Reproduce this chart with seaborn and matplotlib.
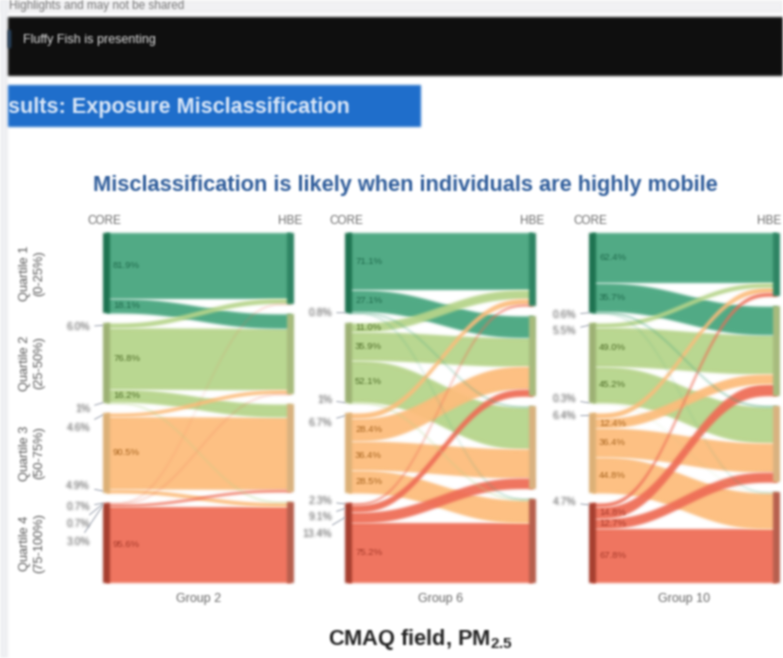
import numpy as np
import pandas as pd
import seaborn as sns
import matplotlib.pyplot as plt

sns.set_theme(style='white')
plt.rcParams['font.family'] = ['Liberation Sans', 'DejaVu Sans']
plt.rcParams['mathtext.fontset'] = 'custom'
plt.rcParams['mathtext.bf'] = 'Liberation Sans:bold'

W, H = 783, 658

quartiles = ['Quartile 1\n(0-25%)', 'Quartile 2\n(25-50%)', 'Quartile 3\n(50-75%)', 'Quartile 4\n(75-100%)']
groups = ['Group 2', 'Group 6', 'Group 10']

# rows = CORE quartile, columns = HBE quartile, % of the CORE quartile
group2 = [[81.9, 18.1, 0, 0],
          [6.0, 76.8, 16.2, 1],
          [0, 4.6, 90.5, 4.9],
          [0.7, 0.7, 3.0, 95.6]]
group6 = [[71.1, 27.1, 1.0, 0.8],
          [11, 35.9, 52.1, 1],
          [6.7, 28.4, 36.4, 28.5],
          [2.3, 9.1, 13.4, 75.2]]
group10 = [[62.4, 35.7, 1.3, 0.6],
           [5.5, 49, 45.2, 0.3],
           [6.4, 12.4, 36.4, 44.8],
           [4.7, 14.8, 12.7, 67.8]]
all_flows = [group2, group6, group10]

band_colors = sns.color_palette(['#48A67F', '#B7D58B', '#FDBD7C', '#EF6E57'])
left_bar_colors = ['#1E7350', '#9DB374', '#DDB277', '#A83F30']
right_bar_colors = ['#2F8463', '#A9BC7E', '#D9B480', '#B8604E']
text_colors = ['#1F6B4C', '#4F6E28', '#A8651F', '#A83A2A']

# flows labelled outside the bars: (from, to, label y in pixels)
outside2 = [(1, 0, 327), (1, 3, 409), (2, 1, 428), (2, 3, 486), (3, 0, 507), (3, 1, 524), (3, 2, 542)]
outside6 = [(0, 3, 313), (1, 3, 400), (2, 0, 423), (3, 0, 501), (3, 1, 517), (3, 2, 534)]
outside10 = [(0, 3, 315), (1, 0, 331), (1, 3, 399), (2, 0, 416), (3, 0, 502)]
all_outside = [outside2, outside6, outside10]

panel_x = [(103, 294), (345, 536), (589, 780)]
top, bottom = 233, 583
unit = 0.8      # pixels per 1%
gap = 12.5      # gap between quartiles, in % units
bar_px = 7


# the reference is a blurry screen grab, so soften everything a bit
def soften(img, dpi):
    pad = 4
    out = np.zeros((img.shape[0] + 2 * pad, img.shape[1] + 2 * pad, 4))
    out[pad:-pad, pad:-pad] = img
    out[..., :3] *= out[..., 3:]
    for axis in (0, 1):
        out = (6 * out + 4 * (np.roll(out, 1, axis) + np.roll(out, -1, axis))
               + np.roll(out, 2, axis) + np.roll(out, -2, axis)) / 16
    out[..., :3] /= np.maximum(out[..., 3:], 1e-4)
    return np.clip(out, 0, 1), -pad, -pad


fig = plt.figure(figsize=(W / 100, H / 100), dpi=100, facecolor='white')

# screenshot chrome, in pixel coordinates
bg = fig.add_axes([0, 0, 1, 1], zorder=0)
bg.set_xlim(0, W)
bg.set_ylim(H, 0)
bg.axis('off')
bg.fill_between([0, W], 0, 13, color='#F1F1F3', lw=0)
bg.fill_between([0, 8], 0, H, color='#EFF0F3', lw=0)
bg.fill_between([8, W], 17, 76, color='#0F0F0F', lw=0)
bg.fill_between([8, 11], 30, 48, color='#2A4A6A', lw=0)
bg.fill_between([8, 421], 85, 127, color='#1F6ECB', lw=0)
bg.text(9, 6, 'Highlights and may not be shared', fontsize=8.5, color='#777777', va='center')
bg.text(23, 40, 'Fluffy Fish is presenting', fontsize=9, color='#E0E0E0', va='center')
bg.text(8, 108, 'sults: Exposure Misclassification', fontsize=15.6, fontweight='bold', color='#DCE8F8',
        va='center')
bg.text(405, 186, 'Misclassification is likely when individuals are highly mobile', fontsize=15.7,
        fontweight='bold', color='#2F5D9B', ha='center', va='center')
bg.text(420, 639, r'CMAQ field, PM$_{\mathbf{2.5}}$', fontsize=15.7, fontweight='bold', color='#222222',
        ha='center', va='center')

for q, label in enumerate(quartiles):
    bg.text(32, top + 40 + q * 90, label, rotation=90, fontsize=9.2, color='#555555', ha='center',
            va='center', linespacing=1.2)


def smooth(t):
    return t * t * t * (t * (6 * t - 15) + 10)


for i, flows in enumerate(all_flows):
    x0, x1 = panel_x[i]
    ax = fig.add_axes([x0 / W, 1 - bottom / H, (x1 - x0) / W, (bottom - top) / H], zorder=1)
    ax.patch.set_alpha(0)
    ax.set_xlim(x0, x1)
    ax.set_ylim((bottom - top) / unit, 0)
    ax.axis('off')

    df = pd.DataFrame(flows)
    left_size = df.sum(axis=1).values
    right_size = df.sum(axis=0).values
    # right side is stretched a little so both sides share the same height
    scale = left_size.sum() / right_size.sum()

    left_start = np.r_[0, np.cumsum(left_size + gap)[:-1]]
    right_start = np.r_[0, np.cumsum(right_size * scale + gap)[:-1]]

    # stack flows on each side
    l_pos = np.zeros((4, 4))
    r_pos = np.zeros((4, 4))
    for s in range(4):
        l_pos[s] = left_start[s] + np.r_[0, np.cumsum(df.iloc[s].values)[:-1]]
    for d in range(4):
        r_pos[:, d] = right_start[d] + np.r_[0, np.cumsum(df.iloc[:, d].values * scale)[:-1]]

    # bands run in under the bars so no white seam shows after the blur
    xs = np.linspace(x0 + 3, x1 - 3, 120)
    t = smooth(np.clip((xs - x0 - bar_px) / (x1 - x0 - 2 * bar_px), 0, 1))
    order = sorted(((s, d) for s in range(4) for d in range(4)), key=lambda p: -df.iloc[p[0], p[1]])
    for s, d in order:
        v = df.iloc[s, d]
        if v == 0:
            continue
        y_top = l_pos[s, d] + (r_pos[s, d] - l_pos[s, d]) * t
        y_bot = y_top + v * (1 + (scale - 1) * t)
        ax.fill_between(xs, y_top, y_bot, color=band_colors[s], alpha=0.95, lw=0)

    for q in range(4):
        ax.fill_between([x0, x0 + bar_px], left_start[q], left_start[q] + left_size[q],
                        color=left_bar_colors[q], lw=0)
        ax.fill_between([x1 - bar_px, x1], right_start[q], right_start[q] + right_size[q] * scale,
                        color=right_bar_colors[q], lw=0)

    outside = {(s, d): y for s, d, y in all_outside[i]}
    for s in range(4):
        for d in range(4):
            v = df.iloc[s, d]
            if v == 0:
                continue
            mid = l_pos[s, d] + v / 2
            txt = f'{v:g}%' if v == 1 else f'{v:.1f}%'
            if (s, d) in outside:
                ly = (outside[(s, d)] - top) / unit
                ax.annotate(txt, xy=(x0, mid), xytext=(x0 - 13, ly), fontsize=7.5, color='#555555',
                            ha='right', va='center', annotation_clip=False,
                            arrowprops=dict(arrowstyle='-', color='#8890A0', lw=0.6, shrinkA=1, shrinkB=0))
            elif v >= 7:
                ax.text(x0 + bar_px + 3, mid, txt, fontsize=6.8, color=text_colors[s], va='center')

    bg.text(x0 + 1, 221, 'CORE', fontsize=8.5, color='#666666', ha='center', va='center')
    bg.text(min(x1 - 4, 769), 221, 'HBE', fontsize=8.5, color='#666666', ha='center', va='center')
    bg.text((x0 + x1) / 2, 599, groups[i], fontsize=9, color='#666666', ha='center', va='center')

for a in fig.axes:
    for art in a.get_children():
        if hasattr(art, 'get_text') or art.__class__.__name__ in ('PolyCollection', 'FillBetweenPolyCollection'):
            art.set_agg_filter(soften)

plt.savefig('out.png', dpi=100)
